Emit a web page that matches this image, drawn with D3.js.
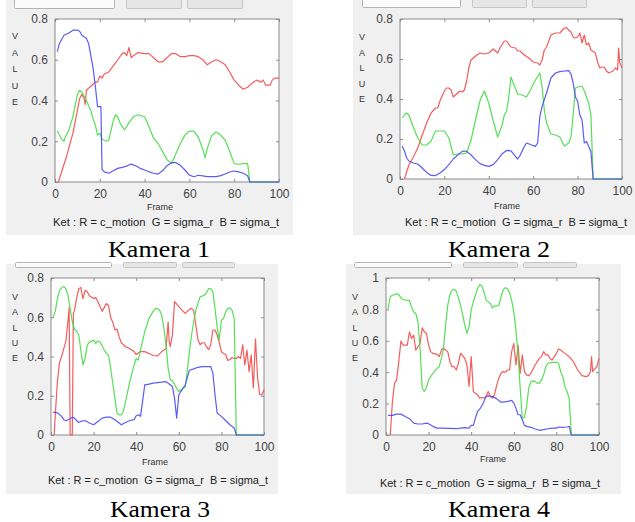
<!DOCTYPE html>
<html><head><meta charset="utf-8">
<script src="https://cdn.jsdelivr.net/npm/d3@7"></script>
<style>body{margin:0;background:#fff}svg{display:block}</style>
</head><body><svg id="c" width="635" height="522"></svg>
<script>
// ---------- DATA ----------
const frameTicks = [0, 20, 40, 60, 80, 100];
const valueTicks08 = [0, 0.2, 0.4, 0.6, 0.8];
const valueTicks10 = [0, 0.2, 0.4, 0.6, 0.8, 1];
const cameraLabels = ["Kamera 1", "Kamera 2", "Kamera 3", "Kamera 4"];
const xAxisTitle = "Frame";
const yAxisTitle = ["V", "A", "L", "U", "E"];
const legendText = "Ket : R = c_motion  G = sigma_r  B = sigma_t";

// [frame, value]
const cam1Red = [[1.5,0],[5,0.12],[8,0.24],[10,0.35],[11,0.41],[12,0.43],[13,0.41],[13.5,0.38],[14,0.45],[16,0.47],[18,0.49],[19,0.49],[20,0.52],[21,0.51],[22,0.53],[24,0.54],[26,0.57],[28,0.60],[30,0.63],[31,0.635],[32,0.62],[33,0.66],[34,0.61],[35,0.62],[37,0.635],[40,0.63],[42,0.63],[44,0.61],[46,0.59],[48,0.59],[50,0.61],[52,0.63],[54,0.63],[56,0.615],[58,0.615],[60,0.62],[62,0.62],[64,0.615],[66,0.60],[68,0.575],[70,0.59],[72,0.60],[74,0.59],[76,0.575],[78,0.54],[80,0.50],[82,0.475],[84,0.455],[86,0.465],[88,0.485],[90,0.50],[92,0.49],[93,0.50],[94,0.475],[96,0.475],[97,0.50],[98,0.51],[100,0.51]];
const cam1Green = [[1,0.25],[3,0.21],[4,0.20],[5,0.23],[6,0.25],[8,0.32],[10,0.43],[11,0.45],[12,0.44],[14,0.40],[16,0.35],[17,0.31],[18,0.28],[19,0.23],[20,0.24],[21,0.21],[23,0.20],[24,0.205],[26,0.30],[27,0.33],[28,0.32],[29,0.29],[31,0.255],[33,0.29],[35,0.32],[37,0.33],[40,0.32],[42,0.27],[44,0.215],[46,0.19],[48,0.15],[50,0.11],[52,0.09],[54,0.14],[56,0.19],[58,0.23],[60,0.25],[62,0.25],[64,0.22],[66,0.16],[67,0.12],[68,0.165],[70,0.23],[72,0.245],[74,0.23],[76,0.205],[78,0.15],[80,0.09],[82,0.087],[84,0.09],[86,0.09],[87,0],[100,0]];
const cam1Blue = [[1,0.64],[2,0.68],[4,0.72],[6,0.73],[8,0.745],[10,0.745],[11,0.74],[12,0.72],[14,0.705],[15,0.68],[16,0.62],[17,0.56],[18,0.47],[19,0.37],[20.5,0.37],[21,0.062],[22,0.05],[24,0.043],[26,0.055],[28,0.067],[30,0.072],[32,0.078],[34,0.088],[36,0.08],[38,0.067],[40,0.059],[42,0.05],[44,0.043],[46,0.039],[48,0.055],[50,0.08],[52,0.095],[54,0.095],[56,0.082],[58,0.059],[60,0.034],[62,0.026],[64,0.033],[66,0.03],[68,0.026],[70,0.026],[72,0.026],[74,0.031],[76,0.039],[78,0.049],[80,0.054],[82,0.05],[84,0.043],[86,0.031],[87,0],[100,0]];

const cam2Red = [[2,0],[4,0.07],[6,0.11],[8,0.155],[10,0.22],[12,0.28],[14,0.33],[16,0.355],[17,0.355],[18,0.39],[20,0.44],[21,0.455],[22,0.455],[23,0.445],[24,0.41],[25,0.42],[26,0.43],[27,0.44],[28,0.435],[29,0.445],[30,0.49],[31,0.555],[32,0.595],[34,0.615],[36,0.63],[38,0.625],[40,0.63],[42,0.65],[44,0.63],[45,0.655],[47,0.69],[48,0.69],[50,0.66],[52,0.655],[53,0.64],[54,0.64],[55,0.63],[56,0.62],[58,0.605],[60,0.585],[62,0.58],[63,0.57],[64,0.595],[65,0.645],[66,0.66],[68,0.72],[70,0.73],[72,0.73],[74,0.755],[75,0.757],[76,0.745],[77,0.735],[78,0.71],[79,0.705],[80,0.71],[81,0.73],[82,0.68],[83,0.72],[84,0.67],[85,0.68],[86,0.645],[88,0.63],[89,0.585],[90,0.555],[91,0.56],[92,0.56],[93,0.54],[94,0.53],[96,0.54],[97,0.555],[98,0.545],[98.5,0.655],[99,0.58],[100,0.555]];
const cam2Green = [[1,0.305],[2,0.32],[3,0.33],[4,0.32],[6,0.26],[8,0.205],[10,0.17],[12,0.17],[14,0.19],[16,0.24],[18,0.24],[20,0.24],[22,0.205],[24,0.12],[26,0.125],[28,0.126],[30,0.13],[32,0.195],[34,0.295],[36,0.39],[38,0.44],[40,0.38],[42,0.29],[44,0.21],[46,0.27],[47,0.32],[48,0.34],[49,0.41],[50,0.51],[51,0.48],[53,0.425],[55,0.42],[57,0.41],[59,0.45],[61,0.495],[63,0.53],[64,0.46],[65,0.345],[66,0.28],[68,0.225],[70,0.22],[72,0.21],[74,0.165],[76,0.18],[77,0.21],[78,0.32],[79,0.455],[80,0.46],[82,0.465],[83,0.44],[84,0.41],[85,0.38],[86,0.32],[87,0],[100,0]];
const cam2Blue = [[1,0.165],[2,0.14],[3,0.105],[4,0.09],[6,0.08],[8,0.075],[10,0.055],[12,0.033],[14,0.018],[16,0.017],[18,0.03],[20,0.047],[22,0.072],[24,0.1],[26,0.12],[28,0.138],[29,0.14],[30,0.138],[32,0.12],[34,0.097],[36,0.077],[38,0.068],[40,0.063],[42,0.072],[44,0.097],[46,0.126],[48,0.143],[50,0.141],[52,0.113],[53,0.1],[54,0.116],[56,0.163],[57,0.18],[59,0.171],[61,0.163],[62,0.18],[63,0.313],[64,0.363],[66,0.43],[68,0.505],[70,0.53],[72,0.537],[74,0.54],[76,0.542],[77,0.526],[78,0.48],[79,0.41],[80,0.39],[81,0.32],[82,0.296],[83,0.18],[84,0.188],[85,0.163],[86,0.138],[87,0],[100,0]];

const cam3Red = [[1.5,0],[2,0.10],[3,0.27],[4,0.37],[5,0.40],[6,0.44],[7,0.48],[8,0.585],[8.5,0.65],[9,0],[10,0],[10.5,0.62],[11,0.635],[12,0.695],[13,0.745],[14,0.752],[15,0.695],[16,0.737],[17,0.73],[18,0.71],[20,0.695],[21,0.70],[22,0.68],[24,0.63],[26,0.67],[27,0.66],[28,0.60],[29,0.575],[30,0.535],[31,0.54],[32,0.50],[33,0.47],[35,0.45],[37,0.44],[39,0.425],[40,0.41],[42,0.425],[44,0.425],[46,0.415],[48,0.405],[50,0.403],[52,0.425],[54,0.44],[55,0.575],[55.5,0.475],[56,0.45],[57,0.51],[58,0.68],[60,0.655],[62,0.63],[63,0.62],[65,0.64],[66,0.645],[67,0.635],[68,0.56],[69,0.485],[70,0.46],[71,0.47],[72,0.47],[73,0.45],[74,0.435],[75,0.46],[76,0.535],[77,0.535],[78,0.51],[79,0.47],[80,0.425],[81,0.415],[82,0.41],[83,0.38],[84,0.385],[85,0.395],[86,0.39],[87,0.39],[88,0.40],[89,0.39],[90,0.46],[91,0.357],[92,0.433],[93,0.323],[94,0.408],[95,0.24],[96,0.49],[97,0.29],[98,0.205],[99,0.205],[100,0.23]];
const cam3Green = [[1,0.60],[2,0.63],[3,0.695],[4,0.737],[5,0.75],[6,0.757],[7,0.745],[8,0.71],[9,0.645],[10,0.577],[11,0.54],[12,0.53],[13,0.51],[14,0.433],[15,0.357],[16,0.39],[17,0.458],[18,0.472],[20,0.484],[21,0.467],[22,0.479],[23,0.475],[25,0.433],[26,0.416],[27,0.408],[28,0.34],[29,0.264],[30,0.188],[31,0.112],[32,0.103],[33,0.103],[34,0.12],[35,0.17],[37,0.272],[39,0.357],[40,0.39],[41,0.382],[42,0.433],[44,0.526],[46,0.594],[48,0.631],[49,0.644],[50,0.644],[51,0.636],[52,0.61],[53,0.543],[54,0.458],[55,0.34],[56,0.281],[57,0.276],[58,0.259],[59,0.238],[60,0.222],[61,0.23],[62,0.238],[63,0.242],[64,0.33],[65,0.425],[66,0.51],[67,0.577],[68,0.636],[70,0.704],[72,0.712],[73,0.724],[74,0.746],[75,0.746],[76,0.729],[77,0.644],[78,0.551],[79,0.484],[80,0.585],[81,0.594],[82,0.627],[83,0.644],[84,0.648],[85,0.636],[86,0.594],[87,0],[100,0]];
const cam3Blue = [[1,0.117],[3,0.113],[5,0.095],[6,0.078],[7,0.073],[9,0.083],[10,0.091],[11,0.086],[12,0.074],[13,0.064],[14,0.069],[16,0.074],[18,0.061],[20,0.052],[22,0.069],[24,0.086],[26,0.091],[28,0.091],[30,0.078],[32,0.061],[33,0.052],[35,0.064],[37,0.074],[39,0.078],[40,0.098],[41,0.103],[42,0.095],[43,0.171],[44,0.255],[46,0.259],[48,0.264],[50,0.267],[52,0.269],[54,0.272],[55,0.264],[57,0.247],[58,0.188],[59,0.086],[60,0.205],[61,0.222],[63,0.255],[65,0.33],[67,0.337],[69,0.345],[71,0.348],[73,0.348],[75,0.348],[76,0.315],[77,0.205],[78,0.112],[80,0.095],[82,0.074],[84,0.052],[86,0.036],[87,0],[100,0]];

const cam4Red = [[2,0],[3,0.21],[4,0.33],[5,0.35],[6,0.467],[7,0.598],[8,0.573],[10,0.573],[11,0.657],[12,0.615],[13,0.636],[14,0.541],[15,0.562],[16,0.583],[17,0.683],[18,0.657],[19,0.647],[20,0.573],[21,0.531],[22,0.52],[24,0.514],[25,0.499],[26,0.541],[27,0.552],[28,0.541],[29,0.531],[30,0.467],[31,0.435],[32,0.435],[33,0.414],[34,0.457],[35,0.52],[36,0.505],[37,0.488],[38,0.446],[39,0.309],[40,0.499],[41,0.277],[42,0.266],[43,0.256],[44,0.235],[45,0.239],[46,0.235],[47,0.245],[48,0.277],[49,0.245],[50,0.235],[51,0.26],[52,0.319],[53,0.362],[54,0.393],[55,0.404],[56,0.4],[57,0.414],[58,0.414],[59,0.531],[60,0.583],[61,0.446],[62,0.573],[63,0.393],[64,0.51],[65,0.404],[66,0.383],[67,0.378],[68,0.393],[70,0.446],[72,0.488],[73,0.499],[74,0.531],[75,0.51],[76,0.51],[77,0.488],[78,0.478],[79,0.499],[80,0.52],[81,0.548],[82,0.541],[84,0.52],[86,0.499],[88,0.467],[90,0.414],[92,0.378],[94,0.372],[95,0.378],[96,0.404],[96.5,0.499],[97,0.404],[98,0.421],[99,0.435],[100,0.488]];
const cam4Green = [[1,0.805],[2,0.88],[3,0.89],[4,0.894],[5,0.90],[6,0.894],[7,0.873],[8,0.863],[10,0.858],[11,0.858],[12,0.816],[13,0.784],[14,0.774],[15,0.721],[16,0.552],[17,0.298],[18,0.277],[19,0.302],[20,0.351],[22,0.393],[24,0.425],[25,0.435],[26,0.488],[27,0.552],[28,0.70],[29,0.827],[30,0.894],[31,0.922],[32,0.928],[33,0.915],[34,0.873],[35,0.827],[36,0.763],[37,0.70],[38,0.647],[39,0.69],[40,0.795],[41,0.848],[42,0.89],[43,0.932],[44,0.958],[45,0.949],[46,0.911],[47,0.858],[48,0.848],[49,0.837],[50,0.81],[51,0.822],[52,0.822],[53,0.827],[54,0.879],[55,0.922],[56,0.939],[57,0.932],[58,0.907],[59,0.858],[60,0.784],[61,0.668],[62,0.51],[63,0.298],[64,0.108],[65,0.112],[66,0.182],[67,0.298],[68,0.34],[69,0.345],[70,0.34],[71,0.33],[72,0.33],[73,0.351],[74,0.383],[75,0.435],[76,0.457],[78,0.463],[80,0.463],[81,0.457],[82,0.404],[83,0.372],[84,0.309],[85,0.277],[86,0.235],[87,0],[100,0]];
const cam4Blue = [[1,0.125],[3,0.125],[5,0.133],[7,0.133],[9,0.118],[11,0.104],[13,0.076],[15,0.07],[17,0.07],[19,0.076],[20,0.072],[22,0.055],[24,0.044],[26,0.044],[30,0.042],[33,0.04],[35,0.044],[37,0.047],[39,0.044],[40,0.061],[41,0.061],[42,0.108],[43,0.15],[44,0.165],[45,0.186],[46,0.214],[47,0.245],[48,0.249],[50,0.245],[52,0.23],[54,0.209],[55,0.209],[57,0.214],[59,0.22],[60,0.203],[61,0.171],[62,0.129],[63,0.129],[64,0.097],[65,0.061],[66,0.055],[68,0.049],[70,0.038],[72,0.03],[74,0.034],[76,0.04],[78,0.044],[80,0.044],[81,0.051],[83,0.049],[85,0.051],[86,0.055],[87,0],[100,0]];

const cameraSeries = [
  [cam1Red, cam1Green, cam1Blue],
  [cam2Red, cam2Green, cam2Blue],
  [cam3Red, cam3Green, cam3Blue],
  [cam4Red, cam4Green, cam4Blue]
];
const cameraValueTicks = [valueTicks08, valueTicks08, valueTicks08, valueTicks10];

// ---------- LAYOUT & STYLE ----------
const seriesColors = ["#f24a4a", "#44dc44", "#4a4af2"];
const layout = [
  {box:[6,0,293,235], plot:[55,19,279,182], widgets:[[14,114],[126,181],[187,242]], wy:[-3,8],
   valueX:15, valueY:[36,102], frame:[160,210], ket:[53,226,226], kam:[159,257,102]},
  {box:[353,0,635,235], plot:[400,19,622,179], widgets:[[362,460],[472,526],[532,586]], wy:[-3,7],
   valueX:362, valueY:[37,99], frame:[507,209], ket:[405,226,222], kam:[499,257,102]},
  {box:[6,264,278,494], plot:[51,278,264,435], widgets:[[15,111],[123,176],[182,234]], wy:[262,267],
   valueX:15, valueY:[297,358], frame:[155,465], ket:[48,484,220], kam:[160,517,100]},
  {box:[346,264,621,494], plot:[386,278,599,435], widgets:[[354,451],[463,517],[523,576]], wy:[262,267],
   valueX:355, valueY:[297,358], frame:[493,462], ket:[380,487,220], kam:[499,517,102]}
];

const svg = d3.select("#c");
const sansFont = "'Liberation Sans', Arial, Helvetica, sans-serif";
const fmt = d => String(+d.toFixed(1));

layout.forEach((L, i) => {
  const g = svg.append("g");
  const [bx0, by0, bx1, by1] = L.box;
  g.append("rect").attr("x", bx0).attr("y", by0).attr("width", bx1 - bx0).attr("height", by1 - by0).attr("fill", "#f0f0f0");

  // top widgets
  L.widgets.forEach((w, j) => {
    g.append("rect").attr("x", w[0] + 0.5).attr("y", L.wy[0] + 0.5)
      .attr("width", w[1] - w[0]).attr("height", L.wy[1] - L.wy[0])
      .attr("rx", 1)
      .attr("fill", j === 0 ? "#fbfbfb" : "#e6e6e6")
      .attr("stroke", j === 0 ? "#b4b4b4" : "#c6c6c6");
  });

  const [px0, py0, px1, py1] = L.plot;
  const ticksY = cameraValueTicks[i];
  const ymax = ticksY[ticksY.length - 1];
  const x = d3.scaleLinear().domain([0, 100]).range([px0, px1]);
  const y = d3.scaleLinear().domain([0, ymax]).range([py1, py0]);

  g.append("rect").attr("x", px0).attr("y", py0).attr("width", px1 - px0).attr("height", py1 - py0)
    .attr("fill", "#fff").attr("stroke", "#8a8a8a").attr("stroke-width", 1);

  const styleAxis = sel => {
    sel.select(".domain").remove();
    sel.selectAll(".tick line").attr("stroke", "#8a8a8a");
    sel.selectAll(".tick text").attr("fill", "#444").attr("font-family", sansFont).attr("font-size", 12);
  };
  g.append("g").attr("transform", `translate(0,${py1})`)
    .call(d3.axisBottom(x).tickValues(frameTicks).tickSize(-3).tickPadding(7).tickFormat(d3.format("d")))
    .call(styleAxis);
  g.append("g").attr("transform", `translate(0,${py0})`)
    .call(d3.axisTop(x).tickValues(frameTicks).tickSize(-3).tickFormat(""))
    .call(styleAxis);
  g.append("g").attr("transform", `translate(${px0},0)`)
    .call(d3.axisLeft(y).tickValues(ticksY).tickSize(-3).tickPadding(7).tickFormat(fmt))
    .call(styleAxis);
  g.append("g").attr("transform", `translate(${px1},0)`)
    .call(d3.axisRight(y).tickValues(ticksY).tickSize(-3).tickFormat(""))
    .call(styleAxis);

  const line = d3.line().x(d => x(d[0])).y(d => y(d[1]));
  cameraSeries[i].forEach((s, k) => {
    g.append("path").datum(s).attr("d", line).attr("fill", "none")
      .attr("stroke", seriesColors[k]).attr("stroke-width", 1.2)
      .attr("stroke-linejoin", "round").attr("stroke-opacity", 0.9);
  });

  // y title (vertical letters)
  const step = (L.valueY[1] - L.valueY[0]) / (yAxisTitle.length - 1);
  yAxisTitle.forEach((ch, k) => {
    g.append("text").attr("x", L.valueX).attr("y", L.valueY[0] + k * step).attr("dy", "0.35em")
      .attr("text-anchor", "middle").attr("font-family", sansFont).attr("font-size", 9)
      .attr("fill", "#333").text(ch);
  });

  g.append("text").attr("x", L.frame[0]).attr("y", L.frame[1]).attr("text-anchor", "middle")
    .attr("font-family", sansFont).attr("font-size", 9).attr("fill", "#333").text(xAxisTitle);

  g.append("text").attr("x", L.ket[0]).attr("y", L.ket[1])
    .attr("font-family", sansFont).attr("font-size", 11).attr("fill", "#222")
    .attr("xml:space", "preserve").style("white-space", "pre")
    .attr("textLength", L.ket[2]).attr("lengthAdjust", "spacingAndGlyphs")
    .text(legendText);

  g.append("text").attr("x", L.kam[0]).attr("y", L.kam[1]).attr("text-anchor", "middle")
    .attr("font-family", "'Liberation Serif', 'Times New Roman', serif").attr("font-size", 23)
    .attr("fill", "#000").attr("textLength", L.kam[2]).attr("lengthAdjust", "spacingAndGlyphs")
    .text(cameraLabels[i]);
});
</script></body></html>
